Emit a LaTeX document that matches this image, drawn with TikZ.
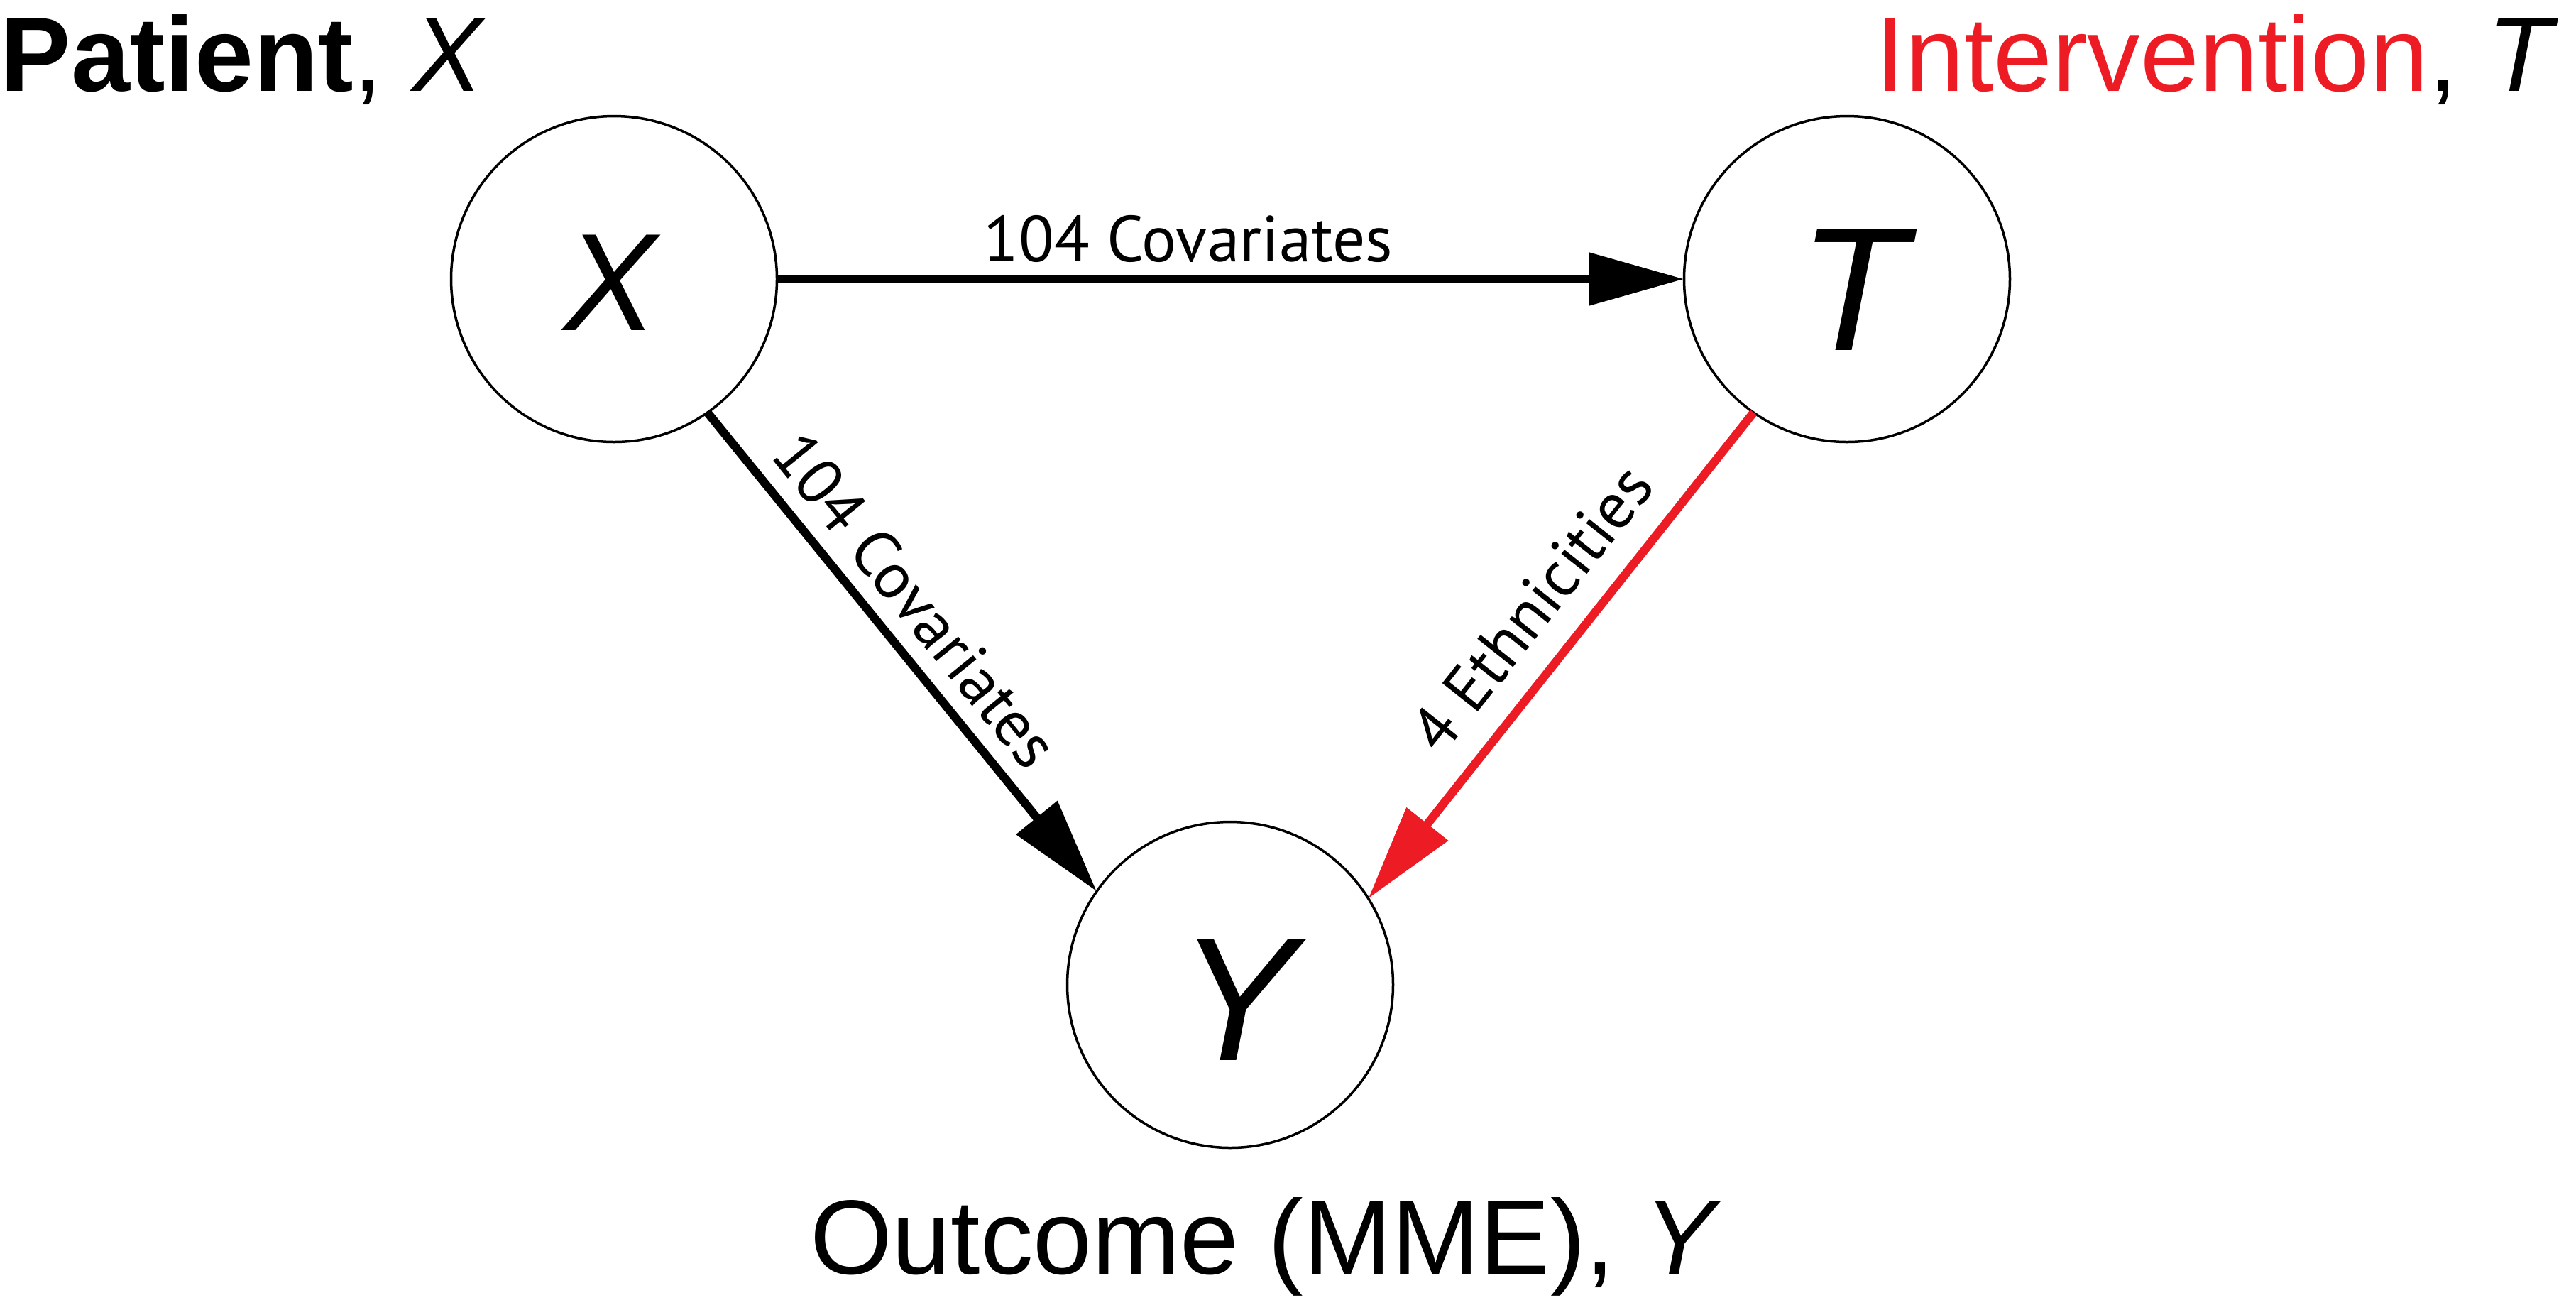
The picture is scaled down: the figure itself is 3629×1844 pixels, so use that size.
\documentclass[tikz,border=0pt]{standalone}
\usepackage{fontspec}
\setmainfont{Liberation Sans}
\newfontfamily\edgefont{PT Sans}
\usetikzlibrary{arrows.meta}
\definecolor{ired}{RGB}{237,28,36}
\begin{document}
\begin{tikzpicture}[x=0.2pt,y=-0.2pt,
  circ/.style={circle, draw, line width=0.7pt, minimum size=91.8pt, inner sep=0pt, outer sep=0pt},
  bigletter/.style={inner sep=0pt, font=\fontsize{49.7pt}{50pt}\selectfont\itshape},
  smallletter/.style={inner sep=0pt, font=\fontsize{39.1pt}{40pt}\selectfont\itshape},
  arr/.style={line width=2.4pt, -{Triangle[length=26.8pt,width=14.4pt]}},
  elab/.style={font=\edgefont\fontsize{18.3pt}{20pt}\selectfont, inner sep=0pt, sloped, text=black},
  title/.style={font=\fontsize{29.8pt}{30pt}\selectfont, inner sep=0pt, anchor=base west}]
\useasboundingbox (0,0) rectangle (3629,1844);
\node[circ] (X) at (865,393) {};
\node[circ] (T) at (2602,393) {};
\node[circ] (Y) at (1733,1387) {};
\node[smallletter] (Xl) at (860,398) {X};
\node[bigletter] (Tl) at (2610,408) {T};
\node[bigletter] (Yl) at (1743,1408) {Y};
\draw[arr] (X) -- node[elab, pos=0.4535, above=3.4pt] (l1) {104 Covariates} (T);
\draw[arr] (X.-55.97) -- node[elab, pos=0.448, above=4.4pt] (l2) {104 Covariates} (Y.145.8);
\draw[arr, ired] (T.-125.6) -- node[elab, pos=0.47, above=7pt] (l3) {4 Ethnicities} (Y.32.6);
\node[title] (pt) at (0,128) {\textbf{Patient}, \textit{X}};
\node[title, anchor=base east] (it) at (3605,128) {\textcolor{ired}{Intervention}, \textit{T}};
\node[title] (oc) at (1140,1794) {Outcome (MME), \textit{Y}};
\end{tikzpicture}
\end{document}
